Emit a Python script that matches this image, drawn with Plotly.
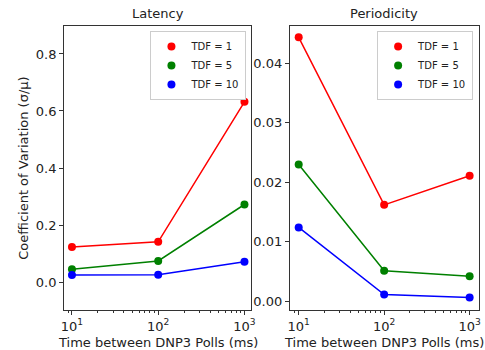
import plotly.graph_objects as go

poll_ms = [10, 100, 1000]
series_names = ["TDF = 1", "TDF = 5", "TDF = 10"]
colors = ["#ff0000", "#008000", "#0000ff"]
latency = [
    [0.123, 0.141, 0.632],
    [0.045, 0.074, 0.272],
    [0.025, 0.026, 0.071],
]
periodicity = [
    [0.0444, 0.0162, 0.0211],
    [0.0230, 0.0051, 0.0042],
    [0.0124, 0.0011, 0.0006],
]
xtick_vals = [10, 100, 1000]
xtick_text = ["10<sup>1</sup>", "10<sup>2</sup>", "10<sup>3</sup>"]
minor_vals = [9] + [k * 10 for k in range(2, 10)] + [k * 100 for k in range(2, 10)]

W, H = 485, 350
FONT = "DejaVu Sans"
FS = 13

fig = go.Figure()

for i, name in enumerate(series_names):
    for data, xa, ya, lg in [(latency, "x", "y", "legend"), (periodicity, "x2", "y2", "legend2")]:
        fig.add_trace(go.Scatter(x=poll_ms, y=data[i], mode="lines",
                                 line=dict(color=colors[i], width=1.5),
                                 xaxis=xa, yaxis=ya, showlegend=False, hoverinfo="skip"))
        fig.add_trace(go.Scatter(x=poll_ms, y=data[i], mode="markers", name=name,
                                 marker=dict(color=colors[i], size=8),
                                 xaxis=xa, yaxis=ya, legend=lg, showlegend=True))

xl = [62 / W, 252 / W]
xr = [291 / W, 483 / W]
yd = [1 - 310 / H, 1 - 26 / H]

axis_common = dict(showline=True, mirror=True, linecolor="#333", linewidth=1,
                   showgrid=False, zeroline=False, ticks="outside", ticklen=4,
                   tickcolor="#333", tickfont=dict(family=FONT, size=FS, color="#222"))

xcommon = dict(axis_common, type="log", tickvals=xtick_vals, ticktext=xtick_text,
               minor=dict(tickvals=minor_vals, ticks="outside", ticklen=2, tickcolor="#333"))

legend_common = dict(yanchor="top", xanchor="right", bgcolor="white",
                     bordercolor="#cccccc", borderwidth=1,
                     font=dict(family=FONT, size=10, color="#222"), tracegroupgap=0)

fig.update_layout(
    width=W, height=H,
    margin=dict(l=0, r=0, t=0, b=0),
    paper_bgcolor="white", plot_bgcolor="white",
    font=dict(family=FONT, size=FS, color="#222"),
    xaxis=dict(xcommon, domain=xl, range=[0.909, 3.08], anchor="y"),
    yaxis=dict(axis_common, domain=yd, range=[-0.098, 0.898], tickvals=[0, 0.2, 0.4, 0.6, 0.8],
               tickformat=".1f", anchor="x"),
    xaxis2=dict(xcommon, domain=xr, range=[0.896, 3.11], anchor="y2"),
    yaxis2=dict(axis_common, domain=yd, range=[-0.0015, 0.0463],
                tickvals=[0, 0.01, 0.02, 0.03, 0.04], tickformat=".2f", anchor="x2"),
    legend=dict(legend_common, x=247 / W, y=1 - 31 / H),
    legend2=dict(legend_common, x=477 / W, y=1 - 31 / H),
    showlegend=True,
)

annos = [
    dict(text="Latency", x=(62 + 252) / 2 / W, y=1 - 13 / H),
    dict(text="Periodicity", x=(291 + 483) / 2 / W, y=1 - 13 / H),
    dict(text="Time between DNP3 Polls (ms)", x=(62 + 252) / 2 / W, y=1 - 342 / H),
    dict(text="Time between DNP3 Polls (ms)", x=(291 + 483) / 2 / W, y=1 - 342 / H),
    dict(text="Coefficient of Variation (σ/μ)", x=20 / W, y=1 - 168 / H, textangle=-90),
]
for a in annos:
    fig.add_annotation(xref="paper", yref="paper", showarrow=False,
                       xanchor="center", yanchor="middle",
                       font=dict(family=FONT, size=FS, color="#222"), **a)

fig.write_html("out.html")
